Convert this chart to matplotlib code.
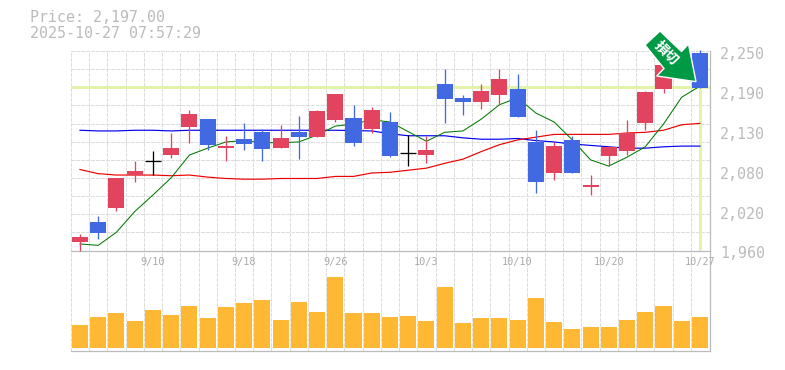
import numpy as np
import matplotlib
matplotlib.use("Agg")
import matplotlib.pyplot as plt
from matplotlib.patches import Polygon
from matplotlib.transforms import ScaledTranslation, Affine2D

W, H = 785, 370
title_lines = ["Price: 2,197.00", "2025-10-27 07:57:29"]
last_price = 2198
date_idx = [4, 9, 14, 19, 24, 29, 34]
date_labels = ["9/10", "9/18", "9/26", "10/3", "10/10", "10/20", "10/27"]
price_labels = ["1,960", "2,020", "2,080", "2,130", "2,190", "2,250"]

opens = [1973, 2002, 2022, 2070, 2091, 2099, 2140, 2151, 2109, 2122, 2133, 2109, 2133, 2125, 2150, 2153, 2137, 2147,
         2102, 2099, 2202, 2182, 2176, 2186, 2195, 2118, 2073, 2121, 2053, 2098, 2105, 2146, 2195, 2211, 2247]
closes = [1980, 1986, 2066, 2076, 2091, 2109, 2159, 2114, 2112, 2115, 2108, 2124, 2125, 2163, 2188, 2117, 2164, 2098,
          2102, 2106, 2180, 2176, 2192, 2209, 2154, 2060, 2112, 2073, 2056, 2111, 2131, 2191, 2230, 2237, 2197]
highs = [1985, 2011, 2066, 2090, 2105, 2131, 2164, 2151, 2127, 2146, 2137, 2143, 2156, 2164, 2188, 2172, 2169, 2162,
         2128, 2127, 2224, 2186, 2202, 2224, 2217, 2135, 2118, 2127, 2070, 2112, 2150, 2192, 2230, 2237, 2252]
lows = [1960, 1977, 2018, 2060, 2070, 2095, 2117, 2106, 2090, 2106, 2090, 2109, 2093, 2125, 2147, 2112, 2131, 2096,
        2083, 2088, 2146, 2157, 2166, 2172, 2154, 2044, 2063, 2073, 2041, 2083, 2099, 2135, 2189, 2211, 2197]
ma_green = [1970, 1968, 1987, 2017, 2041, 2066, 2099, 2109, 2118, 2120, 2117, 2117, 2118, 2128, 2141, 2144, 2150, 2147,
            2133, 2119, 2132, 2134, 2151, 2172, 2182, 2160, 2147, 2121, 2092, 2083, 2096, 2111, 2144, 2183, 2199]
ma_blue = [2135, 2134, 2134, 2135, 2135, 2134, 2135, 2135, 2135, 2135, 2135, 2135, 2135, 2135, 2135, 2134.5, 2134, 2130,
           2127, 2127, 2127, 2124, 2122, 2122, 2123, 2120, 2118, 2115, 2113, 2111, 2109, 2109, 2111, 2112, 2112]
ma_red = [2078, 2072, 2070, 2070, 2070, 2069, 2070, 2067, 2065, 2064, 2064, 2065, 2065, 2065, 2068, 2068, 2073, 2074,
          2077, 2080, 2087, 2093, 2104, 2114, 2121, 2125, 2129, 2129, 2129, 2129, 2131, 2132, 2135, 2143, 2145]
volumes = [23, 31, 35, 27, 38, 33, 42, 30, 41, 45, 48, 28, 46, 36, 71, 35, 35, 31,
           32, 27, 61, 25, 30, 30, 28, 50, 26, 19, 21, 21, 28, 36, 42, 27, 31]

GRAY = "#bbbbbb"
GRID = "#dddddd"
RED = "#e2435f"
BLUE = "#4169e1"
ORANGE = "#ffb834"
LIME = "#e3f4aa"
FONT = "DejaVu Sans Mono"
PX = 0.72
DASH = (0, (3, 2))

x = np.arange(len(opens))
xlim = (-0.52, 34.55)
fig = plt.figure(figsize=(W / 100, H / 100), dpi=100)
L, R = 70.5, 710
av = fig.add_axes([L / W, 1 - 350.5 / H, (R - L) / W, 100 / H])
ax = fig.add_axes([L / W, 1 - 250.5 / H, (R - L) / W, 199.5 / H])
bounds = np.r_[-0.5, x[:-1] + 0.5]
for a in (ax, av):
    a.patch.set_visible(False)
    a.set_xlim(*xlim)
    for s in ("top", "left"):
        a.spines[s].set_visible(False)
    for s in ("right", "bottom"):
        a.spines[s].set_color(GRAY)
        a.spines[s].set_linewidth(0.9)
    a.tick_params(which="both", length=0)

# price panel
ax.set_ylim(1960.5, 2250)
ax.yaxis.tick_right()
ax.set_yticks(np.linspace(1960.5, 2250, 6), price_labels, family=FONT, fontsize=10.8, color=GRAY)
ax.tick_params(axis="y", which="major", pad=7)
off = ScaledTranslation(0, -2 / 100, fig.dpi_scale_trans)
for t in ax.get_yticklabels():
    t.set_transform(t.get_transform() + off)
ax.set_xticks(date_idx, date_labels, family=FONT, fontsize=7.4, color="#aaaaaa")
ax.tick_params(axis="x", which="major", pad=5)

ax.vlines(bounds, 1960.5, 2250, color=GRID, lw=PX, ls=DASH, antialiased=False, zorder=1, clip_on=False)
ax.hlines(np.linspace(1960.5, 2250, 12)[1:], -0.52, 34.55, color=GRID, lw=PX, ls=DASH, antialiased=False, zorder=1, clip_on=False)

ax.axhline(last_price, color=LIME, lw=2.2, zorder=1.5)
ax.vlines(x[-1], 1961.5, last_price, color=LIME, lw=2.2, zorder=1.5)
ax.plot(x, ma_blue, color="#0000ee", lw=0.85, zorder=2)
ax.plot(x, ma_red, color="#ee0000", lw=0.85, zorder=2)
ax.plot(x, ma_green, color="#007a00", lw=0.75, zorder=2)
for i, o, c, h, l in zip(x, opens, closes, highs, lows):
    col = "black" if o == c else (RED if c > o else BLUE)
    ax.vlines(i, l, h, color=col, lw=PX * 1.3, zorder=3, clip_on=False)
    if o == c:
        ax.hlines(o, i - 0.44, i + 0.44, color=col, lw=PX * 1.3, zorder=3)
    else:
        ax.bar(i, abs(c - o), bottom=min(o, c), width=0.88, color=col, lw=0, zorder=3)

# volume panel
av.set_ylim(-2.3, 98)
av.set_yticks([])
av.set_xticks([])
av.vlines(bounds, -2.3, 98, color=GRID, lw=PX, ls=DASH, antialiased=False, zorder=1, clip_on=False)
av.bar(x, volumes, width=0.88, color=ORANGE, lw=0, zorder=3)

# overlays positioned in pixels
px = Affine2D().scale(1 / W, -1 / H).translate(0, 1) + fig.transFigure
arrow = [(645, 45), (660, 31), (681.5, 51.5), (688.5, 44), (696, 81.7), (656.7, 76), (664, 68.5)]
fig.add_artist(Polygon(arrow, closed=True, facecolor="#009944", edgecolor="white", lw=1.0, transform=px, zorder=10))
fig.text(666.5, 53, "損切", transform=px, color="white", rotation=-45, ha="center", va="center",
         family="Noto Sans CJK JP", fontweight="bold", fontsize=10, zorder=11, rotation_mode="anchor")
fig.text(30, 18, title_lines[0], transform=px, family=FONT, fontsize=10.8, color=GRAY, va="center")
fig.text(30, 33, title_lines[1], transform=px, family=FONT, fontsize=10.8, color=GRAY, va="center")

fig.savefig("out.png", dpi=100, facecolor="white")
